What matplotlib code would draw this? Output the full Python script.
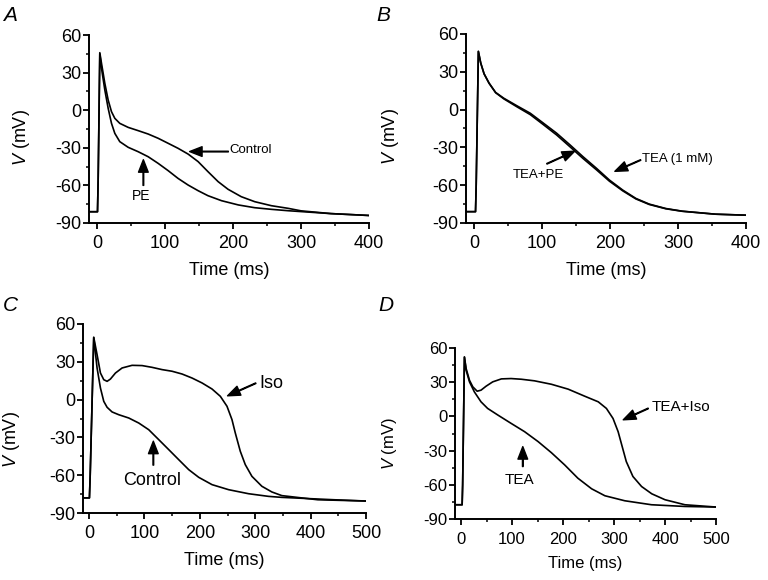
import numpy as np
import matplotlib
matplotlib.use('Agg')
import matplotlib.pyplot as plt
from matplotlib.ticker import MultipleLocator

plt.rcParams['font.family'] = ['Liberation Sans', 'DejaVu Sans']
plt.rcParams['mathtext.fontset'] = 'custom'
plt.rcParams['mathtext.it'] = 'Liberation Sans:italic'
plt.rcParams['mathtext.rm'] = 'Liberation Sans'
plt.rcParams['axes.unicode_minus'] = False

# Panel A: control vs phenylephrine (PE)
a_t_control = [-12, 0.5, 1.5, 3.9, 6.4, 11.3, 16.2, 21.1, 26, 33.3, 45.6, 60.3, 75, 89.7, 104.4,
               119, 133.8, 148.5, 163, 178, 192.6, 212, 231.9, 256.4, 281, 300, 344, 400]
a_v_control = [-81, -81, -55, 45.9, 37.4, 21.4, 8.1, -1.2, -6.5, -10.5, -13.7, -16.3, -19, -22.4, -26.4,
               -30.4, -35, -41, -49, -57, -63.1, -69, -73, -76.2, -78.3, -80.3, -82.5, -84]
a_t_pe = [-12, 0.5, 1.5, 3.9, 6.4, 11.3, 16.2, 21.1, 26, 33.3, 45.6, 60.3, 75, 89.7, 104.4,
          119, 133.8, 148.5, 163, 183, 207.8, 231.9, 256.4, 281, 344, 400]
a_v_pe = [-81, -81, -55, 45, 33.4, 16.1, 1.5, -10.5, -18.5, -25.1, -29.6, -33.1, -37.1, -42.4, -48.2,
          -54.4, -59.7, -64.2, -68.2, -72.2, -75.6, -77.8, -79.1, -80.2, -82.5, -84]

# Panel B: TEA (1 mM) vs TEA+PE
b_t_tea = [-12, 2, 3, 6.2, 9.7, 14.6, 21.9, 31.6, 43.7, 63, 82.6, 102, 121.5, 141, 160, 180, 199,
           218.7, 238, 257.6, 282, 306, 355, 400]
b_v_tea = [-81, -81, -60, 46.2, 36.9, 28.4, 21, 13.6, 9, 3, -2.9, -10.8, -18.8, -28, -37.3, -46.6, -55.9,
           -63.9, -70.5, -75, -78.5, -80.6, -83, -83.8]
b_t_teape = [-12, 2, 3, 6.2, 9.7, 14.6, 21.9, 31.6, 43.7, 63, 82.6, 102, 121.5, 141, 160, 180, 199,
             218.7, 238, 257.6, 282, 306, 355, 400]
b_v_teape = [-81, -81, -60, 46.2, 36.9, 28.4, 21, 13.4, 8.5, 2.2, -4, -12, -20.2, -29.5, -38.7, -47.8, -56.8,
             -64.5, -70.9, -75.3, -78.7, -80.7, -83, -83.8]

# Panel C: control vs isoproterenol (Iso)
c_t_iso = [-11, 0.6, 2, 8.4, 14.4, 20.5, 26.5, 32.5, 38.5, 47.6, 59.6, 77.6, 95.7, 113.7, 131.8, 149.8,
           167.9, 186, 204, 222, 237, 249, 258, 264, 273, 282, 294, 312, 330, 348, 413, 500]
c_v_iso = [-78, -78, -60, 49.4, 35.7, 21.1, 15.8, 14.5, 16.3, 21.1, 25.1, 27.2, 27, 25.6, 23.8, 22.5,
           20.3, 17.1, 13.2, 8.4, 2.6, -5.3, -15.9, -26.5, -41, -51.6, -60.9, -68.8, -73.3, -76.2, -79.5, -80.5]
c_t_control = [-11, 0.6, 2, 8.4, 14.4, 20.5, 26.5, 32.5, 41.5, 53.6, 71.6, 89.7, 107.7, 125.8, 143.8,
               161.9, 179.9, 198, 222, 252, 288, 324, 348, 443, 500]
c_v_control = [-78, -78, -60, 49.4, 25.1, 9.2, -1.4, -6.1, -9.8, -12, -14.6, -18.6, -23.9, -31.8, -39.7,
               -47.7, -55.6, -61.7, -67.5, -71.5, -74.7, -76.8, -77.6, -79.5, -80.5]

# Panel D: TEA vs TEA+Iso
d_t_teaiso = [-12, 2, 3, 6.5, 9.8, 16.4, 23, 31.5, 39, 49, 62, 79, 98, 118, 144, 177, 210, 242, 269,
              285, 298, 308, 316, 324, 337, 354, 374, 400, 439, 500]
d_v_teaiso = [-77.5, -77.5, -60, 52.1, 42, 31.7, 25.9, 22.1, 23, 26.5, 30.3, 32.9, 33.2, 32.6, 31.2, 28.2,
              23.9, 17.8, 12.8, 7, -1.8, -13.4, -26.5, -39.6, -52.7, -61.5, -67.9, -73.1, -77.5, -79.5]
d_t_tea = [-12, 2, 3, 6.5, 9.8, 16.4, 26, 39, 52, 72, 98, 124.5, 151, 177, 203, 229, 256, 282, 321,
           373.5, 439, 500]
d_v_tea = [-77.5, -77.5, -60, 52.1, 40.5, 30.3, 21.5, 12.8, 7, 1.2, -6.1, -13.4, -22.1, -31.8, -42.5,
           -54.2, -63.5, -69.6, -74, -77.5, -79, -79.5]

W, H = 768, 580
fig = plt.figure(figsize=(W / 100, H / 100), dpi=100)


def make_axes(px, xmax, fs, ylab_x, ylab_y):
    l, t, r, b = px
    ax = fig.add_axes([l / W, 1 - b / H, (r - l) / W, (b - t) / H])
    ax.spines['top'].set_visible(False)
    ax.spines['right'].set_visible(False)
    for s in ('left', 'bottom'):
        ax.spines[s].set_linewidth(1.4)
    ax.set_ylim(-90, 60)
    ax.set_yticks([-90, -60, -30, 0, 30, 60])
    ax.yaxis.set_minor_locator(MultipleLocator(15))
    ax.set_xticks(np.arange(0, xmax + 1, 100))
    ax.xaxis.set_minor_locator(MultipleLocator(50))
    ax.tick_params(which='major', length=4, width=1.3, labelsize=fs)
    ax.tick_params(which='minor', length=2.5, width=1.1)
    ax.tick_params(axis='x', which='major', pad=5)
    ax.tick_params(axis='y', which='major', pad=1.5)
    ax.set_xlabel('Time (ms)', fontsize=fs, labelpad=7)
    ax.set_ylabel('$\\it{V}$ (mV)', fontsize=fs)
    ax.yaxis.set_label_coords(ylab_x, ylab_y)
    return ax


def arrow(ax, text, head, tail, textpos, fs, ha='center', va='center'):
    ax.annotate('', xy=head, xytext=tail,
                arrowprops=dict(facecolor='k', edgecolor='k', width=0.5,
                                headwidth=7, headlength=9, shrink=0))
    ax.text(textpos[0], textpos[1], text, fontsize=fs, ha=ha, va=va)


lw = 1.2

# A
ax = make_axes((89, 35, 369, 223), 400, 13, -0.204, 0.457)
ax.set_xlim(-12, 400)
ax.plot(a_t_control, a_v_control, 'k-', lw=lw)
ax.plot(a_t_pe, a_v_pe, 'k-', lw=lw)
arrow(ax, 'Control', (136, -33), (193, -33), (194, -32), 9.5, ha='left')
arrow(ax, 'PE', (68, -39.5), (68, -60), (64, -68.5), 10)

# B
ax = make_axes((466, 34, 746, 223), 400, 13, -0.232, 0.455)
ax.set_xlim(-12, 400)
ax.plot(b_t_tea, b_v_tea, 'k-', lw=lw)
ax.plot(b_t_teape, b_v_teape, 'k-', lw=lw)
arrow(ax, 'TEA+PE', (148, -33), (107, -43), (95, -52), 9.5)
arrow(ax, 'TEA (1 mM)', (207, -49), (245, -40), (247, -39.5), 9.5, ha='left')

# C
ax = make_axes((83, 324, 366, 513), 500, 13, -0.216, 0.39)
ax.set_xlim(-11, 500)
ax.plot(c_t_iso, c_v_iso, 'k-', lw=lw)
ax.plot(c_t_control, c_v_control, 'k-', lw=lw)
arrow(ax, 'Iso', (250, 3), (301, 13), (307, 13), 13, ha='left')
arrow(ax, 'Control', (116, -33), (116, -52), (114, -64), 13)

# D
ax = make_axes((455, 348, 716, 519), 500, 12, -0.215, 0.44)
ax.set_xlim(-12, 500)
ax.plot(d_t_teaiso, d_v_teaiso, 'k-', lw=lw)
ax.plot(d_t_tea, d_v_tea, 'k-', lw=lw)
arrow(ax, 'TEA+Iso', (318, -3), (367, 7), (373, 8), 11, ha='left')
arrow(ax, 'TEA', (121, -26.5), (121, -44), (115, -55.6), 11)

for lab, x, y in [('A', 3, 6), ('B', 376, 6), ('C', 3, 296), ('D', 378, 296)]:
    fig.text(x / W, 1 - y / H, lab, fontsize=15, style='italic', ha='left', va='top')

fig.savefig('out.png', dpi=100)
